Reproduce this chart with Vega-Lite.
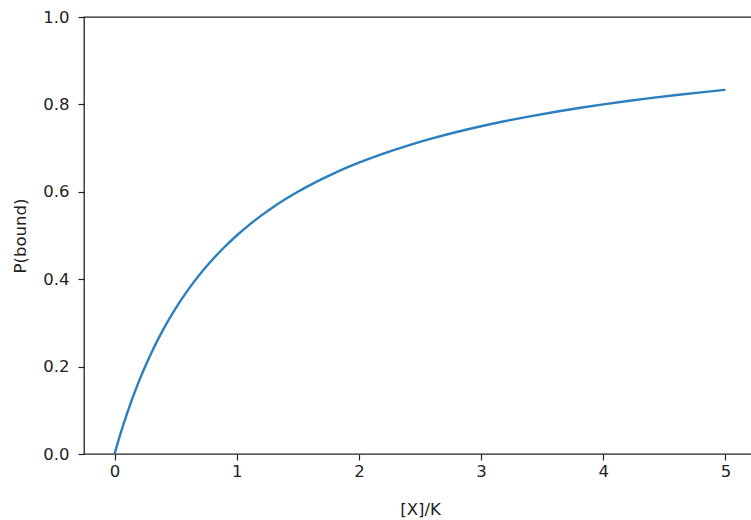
{
  "$schema": "https://vega.github.io/schema/vega-lite/v6.json",
  "width": 672,
  "height": 437,
  "autosize": {"type": "none"},
  "padding": {"left": 84, "top": 17, "right": 0, "bottom": 66},
  "background": "white",
  "config": {
    "view": {"stroke": "#222222", "strokeWidth": 1.3},
    "axis": {
      "grid": false,
      "domain": false,
      "tickColor": "#222222",
      "tickSize": 6,
      "tickWidth": 1.2,
      "labelColor": "#222222",
      "labelFont": "DejaVu Sans",
      "labelFontSize": 16.5,
      "titleColor": "#222222",
      "titleFont": "DejaVu Sans",
      "titleFontSize": 16.5,
      "titleFontWeight": "normal"
    }
  },
  "data": {
    "values": [
      {"x": 0, "p": 0},
      {"x": 0.05, "p": 0.0476},
      {"x": 0.1, "p": 0.0909},
      {"x": 0.2, "p": 0.1667},
      {"x": 0.3, "p": 0.2308},
      {"x": 0.4, "p": 0.2857},
      {"x": 0.5, "p": 0.3333},
      {"x": 0.6, "p": 0.375},
      {"x": 0.7, "p": 0.4118},
      {"x": 0.8, "p": 0.4444},
      {"x": 0.9, "p": 0.4737},
      {"x": 1.0, "p": 0.5},
      {"x": 1.1, "p": 0.5238},
      {"x": 1.2, "p": 0.5455},
      {"x": 1.3, "p": 0.5652},
      {"x": 1.4, "p": 0.5833},
      {"x": 1.5, "p": 0.6},
      {"x": 1.6, "p": 0.6154},
      {"x": 1.7, "p": 0.6296},
      {"x": 1.8, "p": 0.6429},
      {"x": 1.9, "p": 0.6552},
      {"x": 2.0, "p": 0.6667},
      {"x": 2.2, "p": 0.6875},
      {"x": 2.4, "p": 0.7059},
      {"x": 2.6, "p": 0.7222},
      {"x": 2.8, "p": 0.7368},
      {"x": 3.0, "p": 0.75},
      {"x": 3.2, "p": 0.7619},
      {"x": 3.4, "p": 0.7727},
      {"x": 3.6, "p": 0.7826},
      {"x": 3.8, "p": 0.7917},
      {"x": 4.0, "p": 0.8},
      {"x": 4.2, "p": 0.8077},
      {"x": 4.4, "p": 0.8148},
      {"x": 4.6, "p": 0.8214},
      {"x": 4.8, "p": 0.8276},
      {"x": 5.0, "p": 0.8333}
    ]
  },
  "mark": {"type": "line", "color": "#2b7fbf", "strokeWidth": 2.4, "interpolate": "monotone"},
  "encoding": {
    "x": {
      "field": "x",
      "type": "quantitative",
      "scale": {"domain": [-0.25, 5.25], "nice": false, "zero": false},
      "axis": {"values": [0, 1, 2, 3, 4, 5], "format": "d", "title": "[X]/K", "labelPadding": 3, "titlePadding": 22}
    },
    "y": {
      "field": "p",
      "type": "quantitative",
      "scale": {"domain": [0, 1], "nice": false},
      "axis": {"values": [0, 0.2, 0.4, 0.6, 0.8, 1.0], "format": ".1f", "title": "P(bound)", "labelPadding": 9, "titlePadding": 14}
    }
  }
}
